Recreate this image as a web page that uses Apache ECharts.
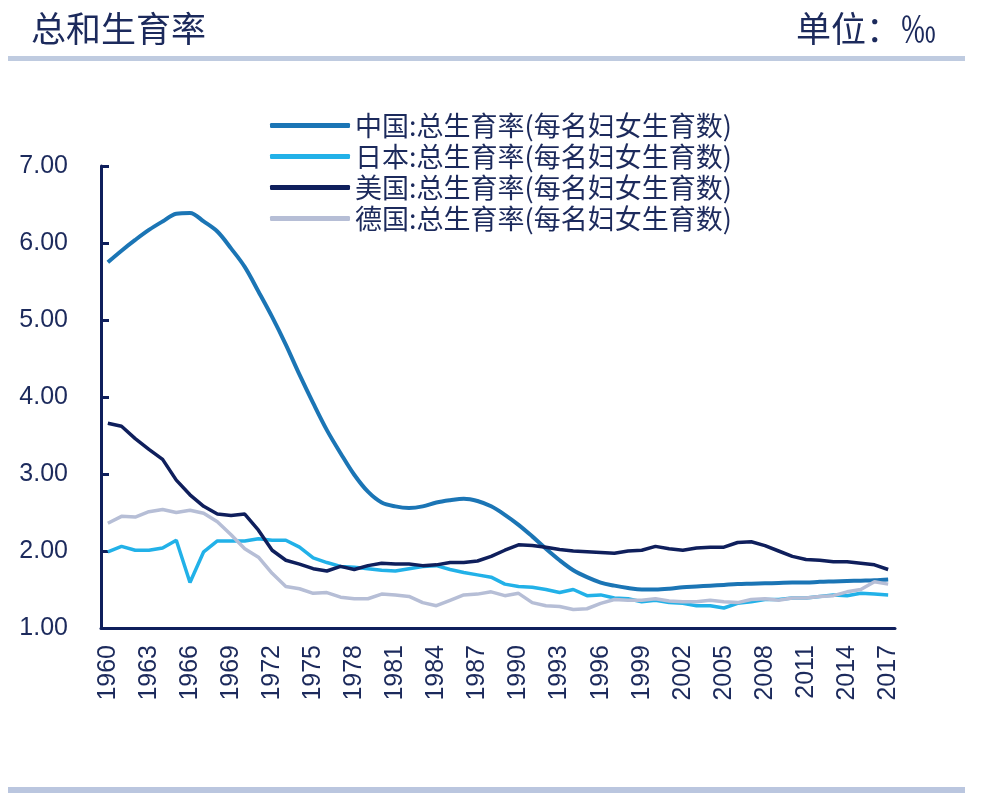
<!DOCTYPE html>
<html>
<head>
<meta charset="utf-8">
<script src="https://cdn.jsdelivr.net/npm/echarts@6/dist/echarts.min.js"></script>
<style>
html,body{margin:0;padding:0;background:#fff;}
#chart{width:984px;height:801px;}
</style>
</head>
<body>
<div id="chart"></div>
<script>
const years = [];
for (let y = 1960; y <= 2017; y++) years.push(String(y));

const seriesNames = [
  '中国:总生育率(每名妇女生育数)',
  '日本:总生育率(每名妇女生育数)',
  '美国:总生育率(每名妇女生育数)',
  '德国:总生育率(每名妇女生育数)'
];

const china = [5.75,5.90,6.04,6.17,6.28,6.38,6.39,6.28,6.15,5.93,5.69,5.37,5.04,4.68,4.29,3.92,3.57,3.27,2.99,2.77,
  2.63,2.58,2.56,2.58,2.63,2.66,2.68,2.65,2.58,2.47,2.34,2.19,2.03,1.88,1.75,1.66,1.59,1.55,1.52,1.50,
  1.50,1.51,1.53,1.54,1.55,1.56,1.57,1.575,1.58,1.585,1.59,1.59,1.60,1.605,1.61,1.615,1.62,1.63];

const japan = [1.99,2.06,2.01,2.01,2.04,2.14,1.59,1.99,2.13,2.13,2.13,2.16,2.14,2.14,2.05,1.91,1.85,1.80,1.79,1.77,
  1.75,1.74,1.77,1.80,1.81,1.76,1.72,1.69,1.66,1.57,1.54,1.53,1.50,1.46,1.50,1.42,1.43,1.39,1.38,1.34,
  1.36,1.33,1.32,1.29,1.29,1.26,1.32,1.34,1.37,1.37,1.39,1.39,1.41,1.43,1.42,1.45,1.44,1.43];

const usa = [3.66,3.62,3.46,3.32,3.19,2.92,2.73,2.58,2.48,2.46,2.48,2.27,2.01,1.88,1.83,1.77,1.74,1.80,1.76,1.81,
  1.84,1.83,1.83,1.81,1.82,1.85,1.85,1.87,1.93,2.01,2.08,2.07,2.05,2.02,2.00,1.99,1.98,1.97,2.00,2.01,
  2.06,2.03,2.01,2.04,2.05,2.05,2.11,2.12,2.07,2.00,1.93,1.89,1.88,1.86,1.86,1.84,1.82,1.76];

const germany = [2.36,2.45,2.44,2.51,2.54,2.50,2.53,2.49,2.38,2.21,2.03,1.92,1.71,1.54,1.51,1.45,1.46,1.40,1.38,1.38,
  1.44,1.43,1.41,1.33,1.29,1.36,1.43,1.44,1.47,1.42,1.45,1.33,1.29,1.28,1.24,1.25,1.32,1.37,1.36,1.36,
  1.38,1.35,1.34,1.34,1.36,1.34,1.33,1.37,1.38,1.36,1.39,1.39,1.41,1.42,1.47,1.50,1.60,1.57];

const yTicks = [1, 2, 3, 4, 5, 6, 7];

const colors = ['#1b75b5', '#22b1e8', '#0f1f5c', '#b6bed6'];
const navy = '#0f1f5c';
const textColor = '#1c2a5c';

const chart = echarts.init(document.getElementById('chart'));
const dataSets = [china, japan, usa, germany];
const smoothFlags = [0.35, false, false, false];

chart.setOption({
  animation: false,
  backgroundColor: '#ffffff',
  graphic: [
    { type: 'text', left: 31, top: 11, style: { text: '总和生育率', fill: textColor, font: '35px "Noto Sans CJK SC"' } },
    { type: 'text', right: 48, top: 11, style: { text: '单位：‰', fill: textColor, font: '35px "Noto Sans CJK SC"' } },
    { type: 'rect', shape: { x: 8, y: 56, width: 957, height: 5 }, style: { fill: '#bfcbe0' } },
    { type: 'rect', shape: { x: 8, y: 787, width: 957, height: 6 }, style: { fill: '#bac6df' } }
  ],
  legend: {
    orient: 'vertical',
    left: 265,
    top: 107,
    itemWidth: 80,
    itemHeight: 5,
    itemGap: 4,
    icon: 'roundRect',
    textStyle: { color: textColor, fontSize: 27, fontFamily: '"Noto Sans CJK SC"' },
    data: seriesNames
  },
  grid: { left: 101, right: 89, top: 166, bottom: 173, containLabel: false },
  xAxis: {
    type: 'category',
    data: years,
    boundaryGap: true,
    axisLine: { lineStyle: { color: navy, width: 3 } },
    axisTick: { inside: true, interval: 2, length: 8, lineStyle: { color: navy, width: 3 } },
    axisLabel: { interval: 2, rotate: 90, margin: 17, color: textColor, fontSize: 25, fontFamily: '"Liberation Sans", Arial' }
  },
  yAxis: {
    type: 'value',
    min: yTicks[0],
    max: yTicks[yTicks.length - 1],
    interval: 1,
    splitLine: { show: false },
    axisLine: { show: true, lineStyle: { color: navy, width: 3 } },
    axisTick: { show: true, inside: true, length: 8, lineStyle: { color: navy, width: 3 } },
    axisLabel: { margin: 33, color: textColor, fontSize: 25, fontFamily: '"Liberation Sans", Arial', formatter: v => v.toFixed(2) }
  },
  series: seriesNames.map((n, i) => ({
    name: n,
    type: 'line',
    data: dataSets[i],
    symbol: 'none',
    smooth: smoothFlags[i],
    lineStyle: { width: i === 0 ? 4 : 3.5, color: colors[i] },
    itemStyle: { color: colors[i] }
  }))
});
</script>
</body>
</html>
